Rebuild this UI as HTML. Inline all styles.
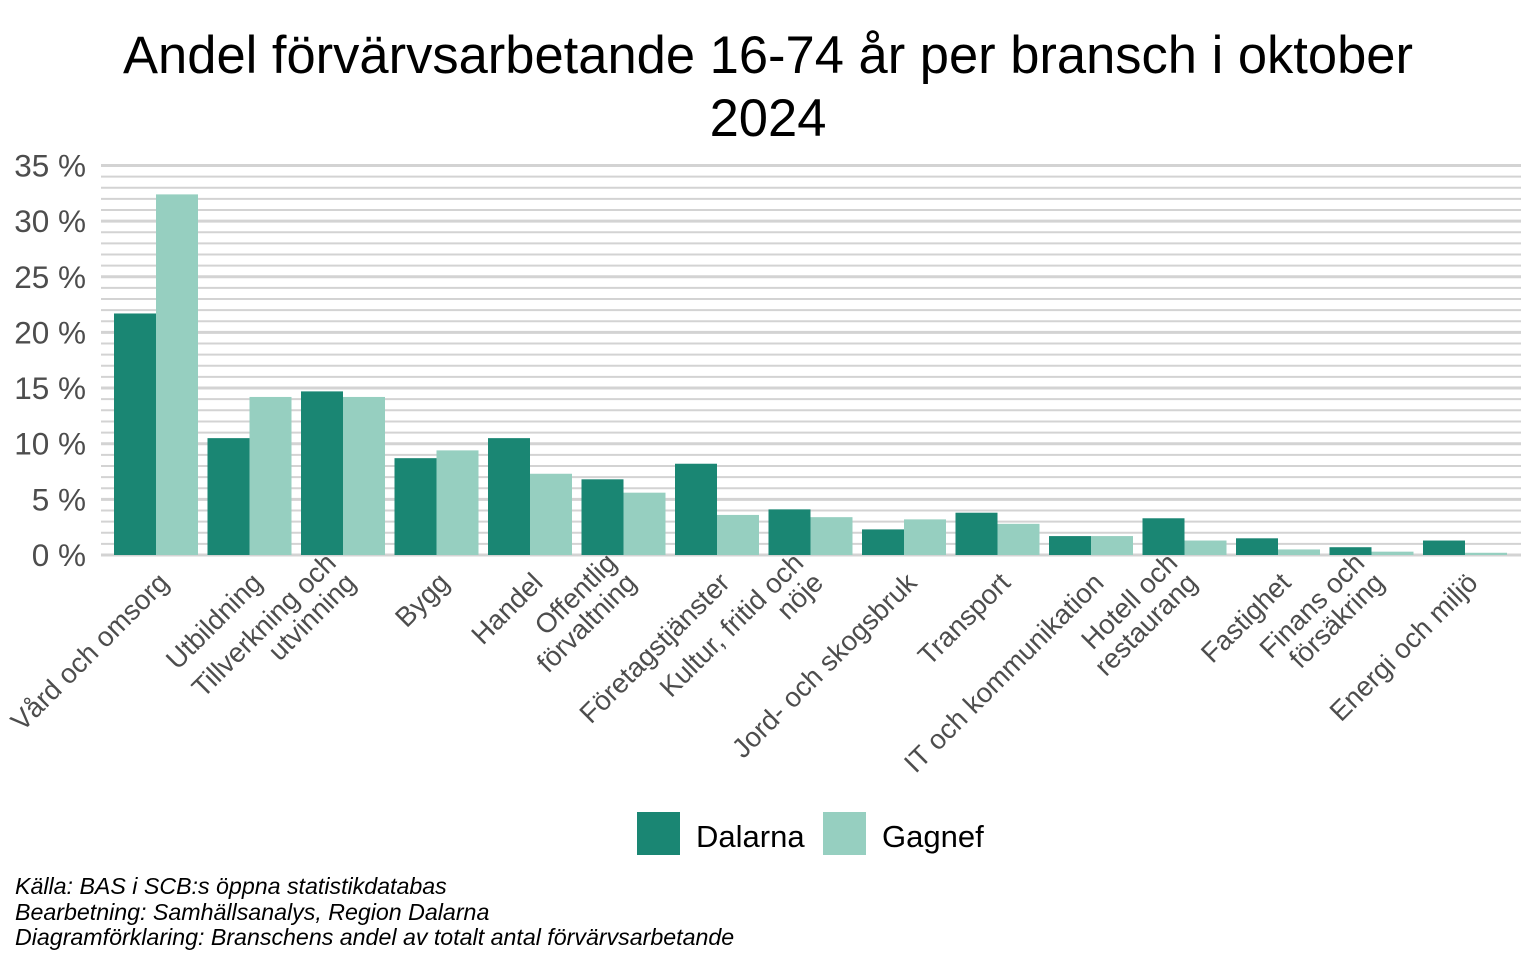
<!DOCTYPE html>
<html><head><meta charset="utf-8"><style>
body{margin:0;background:#fff;width:1536px;height:960px;overflow:hidden;font-family:"Liberation Sans",Arial,sans-serif}
</style></head><body>
<svg id="c" width="1536" height="960" xmlns="http://www.w3.org/2000/svg">
<text x="768" y="73" text-anchor="middle" font-size="52.5" fill="#000">Andel förvärvsarbetande 16-74 år per bransch i oktober</text>
<text x="768" y="136" text-anchor="middle" font-size="52.5" fill="#000">2024</text>
<g id="grid"></g><g id="bars"></g><g id="ylab"></g><g id="xlab"></g>
<g>
<rect x="637" y="812" width="43" height="43" fill="#1a8673"/>
<text x="696" y="847" font-size="31" fill="#000">Dalarna</text>
<rect x="823" y="812" width="43" height="43" fill="#96cfc0"/>
<text x="882" y="847" font-size="31" fill="#000">Gagnef</text>
</g>
<g font-size="23.2" font-style="italic" fill="#000">
<text x="15" y="894">Källa: BAS i SCB:s öppna statistikdatabas</text>
<text x="15" y="920">Bearbetning: Samhällsanalys, Region Dalarna</text>
<text x="15" y="945">Diagramförklaring: Branschens andel av totalt antal förvärvsarbetande</text>
</g>
</svg>
<script>
const categories=[["Vård och omsorg"],["Utbildning"],["Tillverkning och","utvinning"],["Bygg"],["Handel"],["Offentlig","förvaltning"],["Företagstjänster"],["Kultur, fritid och","nöje"],["Jord- och skogsbruk"],["Transport"],["IT och kommunikation"],["Hotell och","restaurang"],["Fastighet"],["Finans och","försäkring"],["Energi och miljö"]];
const dalarna=[21.7,10.5,14.7,8.7,10.5,6.8,8.2,4.1,2.3,3.8,1.7,3.3,1.5,0.7,1.3];
const gagnef=[32.4,14.2,14.2,9.4,7.3,5.6,3.6,3.4,3.2,2.8,1.7,1.3,0.5,0.3,0.2];
const yTicks=[0,5,10,15,20,25,30,35];
const NS="http://www.w3.org/2000/svg";
const y0=555,pxPer=11.13,x0=156,step=93.5,bw=42;
const y=v=>y0-v*pxPer, xc=i=>x0+i*step;
function mk(t,a,p){const e=document.createElementNS(NS,t);for(const k in a)e.setAttribute(k,a[k]);p.appendChild(e);return e;}
const grid=document.getElementById('grid');
for(let v=0;v<=35;v++){
 const l=mk('line',{x1:101,x2:1521,y1:y(v),y2:y(v),stroke:'#d3d3d3','stroke-width':v%5===0?3:2},grid);
 
 
}
const yl=document.getElementById('ylab');
yTicks.forEach(v=>{const t=mk('text',{x:86,y:y(v)+11,'text-anchor':'end','font-size':31.5,fill:'#4d4d4d'},yl);t.textContent=v+' %';
 
 });
const bars=document.getElementById('bars');
categories.forEach((c,i)=>{
 const a=mk('rect',{x:xc(i)-bw,y:y(dalarna[i]),width:bw,height:dalarna[i]*pxPer,fill:'#1a8673'},bars);
 
 
 const b=mk('rect',{x:xc(i),y:y(gagnef[i]),width:bw,height:gagnef[i]*pxPer,fill:'#96cfc0'},bars);
 
 
});
const xl=document.getElementById('xlab');
categories.forEach((c,i)=>{
 const n=c.length;
 const g=mk('g',{transform:`translate(${xc(i)+8},${578}) rotate(-45)`},xl);
 
 
 c.forEach((s,j)=>{const t=mk('text',{x:0,y:(j-(n-1))*28+9,'text-anchor':'end','font-size':27.5,fill:'#4d4d4d'},g);t.textContent=s;});
});
</script>
</body></html>
